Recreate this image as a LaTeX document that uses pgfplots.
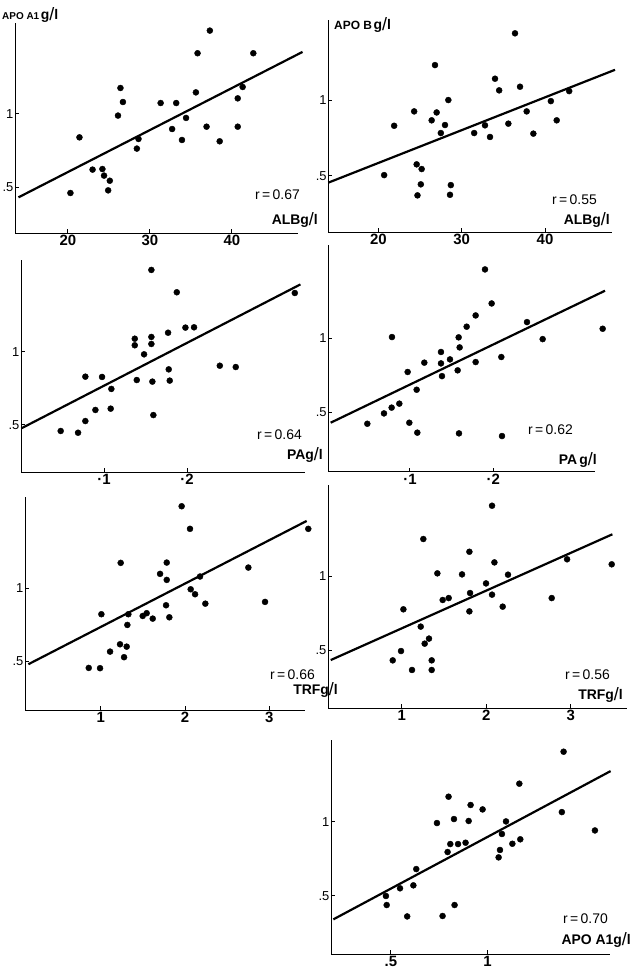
\documentclass[border=0pt]{standalone}
\usepackage{pgfplots}
\pgfplotsset{compat=1.18}
\usepackage{fontspec}
\setmainfont{Liberation Sans}
\pgfplotsset{panel/.style={
  scale only axis, anchor=south west,
  axis x line*=bottom, axis y line*=left,
  axis line style={line width=1bp,-},
  clip=false, tick align=inside, major tick length=4bp,
  tick style={line width=1bp, black},
  ytick={0.5,1}, yticklabels={.5,1},
  yticklabel style={font=\fontsize{13}{13}\selectfont, inner sep=1.5pt},
  xticklabel style={font=\fontsize{15}{15}\selectfont\bfseries, inner sep=2pt},
  /pgf/number format/assume math mode=true},
  pts/.style={only marks, mark=*, mark size=3bp, black},
  reg/.style={line width=2.2bp, black, no marks}}
\newcommand{\rl}[1]{{\fontsize{14}{14}\selectfont r\,=\,#1}}
\newcommand{\ul}[1]{{\fontsize{14}{14}\selectfont\bfseries #1g\raisebox{-1pt}{\fontsize{18}{18}\selectfont\mdseries /}l}}
\begin{document}
\begin{tikzpicture}
\useasboundingbox (0,0) rectangle (631bp,-979bp);
% Panel 1: APO A1 vs ALB
\begin{axis}[panel, at={(15bp,-233bp)}, width=283bp, height=210bp,
  xmin=13.54, xmax=48.05, ymin=0.185, ymax=1.623, xtick={20,30,40}]
\addplot[pts] coordinates {(20.3,0.459)(21.4,0.840)(23.0,0.619)(24.2,0.623)(24.4,0.578)(25.1,0.543)(24.9,0.477)(26.4,1.178)(26.7,1.082)(26.1,0.989)(28.4,0.763)(28.6,0.829)(31.3,1.075)(32.7,0.897)(33.2,1.075)(33.9,0.822)(34.4,0.973)(35.6,1.148)(35.8,1.416)(36.9,0.913)(37.3,1.571)(38.5,0.813)(40.7,1.107)(40.7,0.913)(41.3,1.185)(42.6,1.416)};
\addplot[reg] coordinates {(13.96,0.429)(48.6,1.425)};
\end{axis}
% Panel 2: APO B vs ALB
\begin{axis}[panel, at={(328.3bp,-232.3bp)}, width=283.4bp, height=212.3bp,
  xmin=14.0, xmax=48.0, ymin=0.126, ymax=1.529, xtick={20,30,40}]
\addplot[pts] coordinates {(20.7,0.504)(21.9,0.830)(24.3,0.925)(24.6,0.575)(25.2,0.544)(25.1,0.443)(24.7,0.370)(26.4,0.866)(26.8,1.231)(27.0,0.918)(27.5,0.782)(28.0,0.835)(28.4,1.0)(28.7,0.438)(28.6,0.374)(31.5,0.782)(32.8,0.833)(33.4,0.756)(34.0,1.141)(34.5,1.064)(35.6,0.844)(36.4,1.441)(37.0,1.088)(37.8,0.925)(38.6,0.778)(40.7,0.993)(41.4,0.866)(42.9,1.059)};
\addplot[reg] coordinates {(14.0,0.454)(48.4,1.200)};
\end{axis}
% Panel 3: APO A1 vs PA
\begin{axis}[panel, at={(21bp,-472bp)}, width=284bp, height=212bp,
  xmin=0, xmax=0.342, ymin=0.178, ymax=1.630, xtick={0.1,0.2}, xticklabels={\textperiodcentered 1,\textperiodcentered 2}]
\addplot[pts] coordinates {(0.0478,0.459)(0.0687,0.447)(0.0775,0.527)(0.0896,0.603)(0.0775,0.831)(0.0976,0.829)(0.1088,0.747)(0.108,0.612)(0.137,1.091)(0.137,1.046)(0.1482,0.984)(0.1394,0.808)(0.157,1.562)(0.157,1.103)(0.157,1.055)(0.1582,0.797)(0.1594,0.568)(0.1771,1.132)(0.1779,0.881)(0.1791,0.804)(0.1876,1.409)(0.198,1.167)(0.2084,1.169)(0.2394,0.906)(0.2586,0.897)(0.3297,1.404)};
\addplot[reg] coordinates {(0.0004,0.477)(0.3365,1.463)};
\end{axis}
% Panel 4: APO B vs PA
\begin{axis}[panel, at={(328.3bp,-471.7bp)}, width=266.7bp, height=226.7bp,
  xmin=0.002, xmax=0.322, ymin=0.099, ymax=1.631, xtick={0.1,0.2}, xticklabels={\textperiodcentered 1,\textperiodcentered 2}]
\addplot[pts] coordinates {(0.0488,0.423)(0.0688,0.493)(0.078,0.532)(0.0872,0.559)(0.0784,1.009)(0.0972,0.773)(0.0992,0.430)(0.1088,0.363)(0.108,0.653)(0.1172,0.836)(0.1372,0.908)(0.1372,0.831)(0.1384,0.745)(0.148,0.858)(0.1572,0.784)(0.1584,1.007)(0.1596,0.939)(0.1588,0.358)(0.168,1.079)(0.1788,1.155)(0.1788,0.840)(0.19,1.466)(0.198,1.236)(0.2096,0.874)(0.2104,0.340)(0.2404,1.110)(0.2592,0.995)(0.3312,1.065)};
\addplot[reg] coordinates {(0.0048,0.430)(0.334,1.322)};
\end{axis}
% Panel 5: APO A1 vs TRF
\begin{axis}[panel, at={(25bp,-710bp)}, width=280bp, height=213bp,
  xmin=0.102, xmax=3.423, ymin=0.170, ymax=1.622, xtick={1,2,3}]
\addplot[pts] coordinates {(0.858,0.457)(0.992,0.455)(1.008,0.823)(1.111,0.568)(1.229,0.618)(1.277,0.530)(1.308,0.602)(1.237,1.173)(1.316,0.75)(1.328,0.823)(1.498,0.811)(1.545,0.830)(1.617,0.793)(1.704,1.098)(1.783,1.175)(1.783,1.057)(1.775,0.884)(1.814,0.802)(1.960,1.559)(2.059,1.405)(2.067,0.993)(2.119,0.959)(2.178,1.080)(2.241,0.895)(2.751,1.141)(2.949,0.907)(3.462,1.405)};
\addplot[reg] coordinates {(0.142,0.482)(3.443,1.459)};
\end{axis}
% Panel 6: APO B vs TRF
\begin{axis}[panel, at={(328bp,-708.3bp)}, width=299bp, height=223.3bp,
  xmin=0.128, xmax=3.666, ymin=0.106, ymax=1.615, xtick={1,2,3}]
\addplot[pts] coordinates {(0.894,0.430)(0.992,0.493)(1.122,0.365)(1.020,0.775)(1.225,0.658)(1.272,0.543)(1.323,0.577)(1.355,0.430)(1.355,0.365)(1.256,1.250)(1.422,1.018)(1.485,0.838)(1.556,0.851)(1.714,1.011)(1.801,1.164)(1.809,0.885)(1.801,0.761)(1.998,0.950)(2.069,1.475)(2.069,0.874)(2.097,1.092)(2.195,0.793)(2.258,1.009)(2.775,0.851)(2.957,1.113)(3.485,1.079)};
\addplot[reg] coordinates {(0.160,0.432)(3.493,1.282)};
\end{axis}
% Panel 7: APO B vs APO A1
\begin{axis}[panel, at={(331bp,-954bp)}, width=279bp, height=214bp,
  xmin=0.19, xmax=1.633, ymin=0.106, ymax=1.552, xtick={0.5,1}, xticklabels={.5,1}]
\addplot[pts] coordinates {(0.474,0.498)(0.478,0.437)(0.547,0.550)(0.584,0.360)(0.616,0.570)(0.631,0.680)(0.738,0.991)(0.767,0.363)(0.793,0.795)(0.798,1.169)(0.807,0.849)(0.826,1.018)(0.829,0.437)(0.847,0.849)(0.886,0.858)(0.902,1.005)(0.912,1.113)(0.974,1.083)(1.057,0.759)(1.064,0.809)(1.074,0.917)(1.095,1.002)(1.128,0.851)(1.164,1.257)(1.169,0.881)(1.384,1.065)(1.393,1.473)(1.555,0.941)};
\addplot[reg] coordinates {(0.202,0.340)(1.636,1.342)};
\end{axis}
% Texts
\node[anchor=west, inner sep=0pt] at (2bp,-15bp) {{\fontsize{10}{10}\selectfont\bfseries APO A1}\,{\fontsize{14}{14}\selectfont\bfseries g\raisebox{-1pt}{\fontsize{18}{18}\selectfont\mdseries /}l}};
\node[anchor=west, inner sep=0pt] at (334bp,-25bp) {{\fontsize{12}{12}\selectfont\bfseries APO B}\,{\fontsize{14}{14}\selectfont\bfseries g\raisebox{-1pt}{\fontsize{18}{18}\selectfont\mdseries /}l}};
\node[anchor=east, inner sep=0pt] at (300bp,-195bp) {\rl{0.67}};
\node[anchor=east, inner sep=0pt] at (318bp,-220bp) {\ul{ALB}};
\node[anchor=east, inner sep=0pt] at (597bp,-200bp) {\rl{0.55}};
\node[anchor=east, inner sep=0pt] at (610bp,-220bp) {\ul{ALB}};
\node[anchor=east, inner sep=0pt] at (302bp,-435bp) {\rl{0.64}};
\node[anchor=east, inner sep=0pt] at (323bp,-455bp) {\ul{PA}};
\node[anchor=east, inner sep=0pt] at (573bp,-430bp) {\rl{0.62}};
\node[anchor=east, inner sep=0pt] at (597bp,-460bp) {\ul{PA\,}};
\node[anchor=east, inner sep=0pt] at (315bp,-675bp) {\rl{0.66}};
\node[anchor=east, inner sep=0pt] at (338bp,-690bp) {\ul{TRF}};
\node[anchor=east, inner sep=0pt] at (610bp,-675bp) {\rl{0.56}};
\node[anchor=east, inner sep=0pt] at (623bp,-695bp) {\ul{TRF}};
\node[anchor=east, inner sep=0pt] at (608bp,-919bp) {\rl{0.70}};
\node[anchor=east, inner sep=0pt] at (631bp,-940bp) {\ul{APO A1}};
\end{tikzpicture}
\end{document}
